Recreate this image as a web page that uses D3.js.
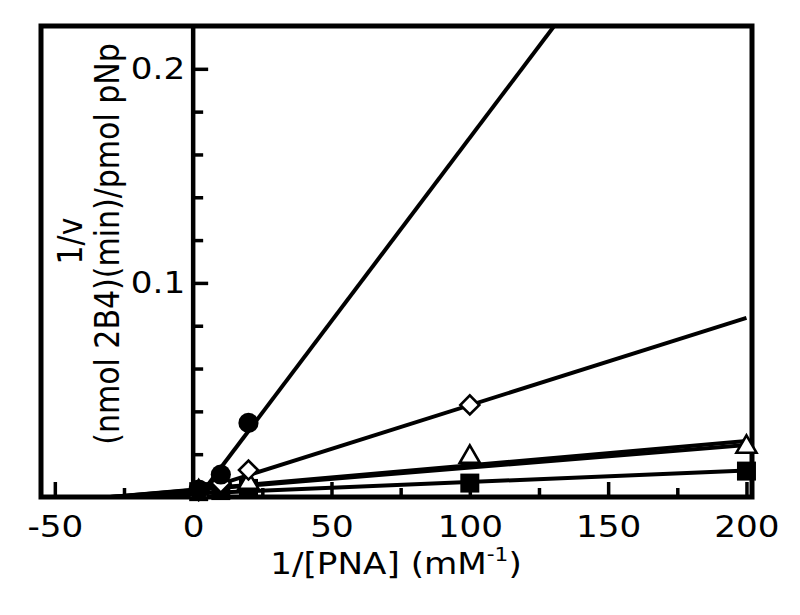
<!DOCTYPE html>
<meta charset="utf-8">
<script src="https://d3js.org/d3.v7.min.js"></script>
<style>
  body { margin: 0; background: #fff; }
  text { font-family: "DejaVu Sans", Verdana, sans-serif; fill: #000; }
</style>
<div id="my_dataviz"></div>
<script>

// measured points (1/[PNA] in mM^-1, 1/v)
var circX = [2, 10, 20],
    circY = [0.0035, 0.0105, 0.0346];
var diamX = [2, 10, 20, 100],
    diamY = [0.003, 0.0065, 0.0126, 0.043];
var triX = [2, 10, 20, 100, 200],
    triY = [0.0025, 0.0085, 0.0065, 0.0187, 0.0234];
var sqX = [2, 10, 20, 100, 200],
    sqY = [0.0025, 0.003, 0.004, 0.0065, 0.0121];

// fitted lines, start and end points
var fitX0 = [2, -5, -30, -30, -30],
    fitY0 = [0, 0, 0, 0, 0],
    fitX1 = [130.5, 200, 200, 200, 200],
    fitY1 = [0.22, 0.0837, 0.0262, 0.0243, 0.0124];

var xMajor = [-50, 0, 50, 100, 150, 200],
    xMinor = [-25, 25, 75, 125, 175];
var yMajor = [0.1, 0.2],
    yMinor = [0.02, 0.04, 0.06, 0.08, 0.12, 0.14, 0.16, 0.18];

var W = 800, H = 615;
var pLeft = 41, pRight = 752, pTop = 26, pBottom = 497;
var stretch = "scale(1.14,1)";

var svg = d3.select("#my_dataviz")
  .append("svg")
    .attr("width", W)
    .attr("height", H);

var x = d3.scaleLinear().domain([-55, 202]).range([pLeft, pRight]);
var y = d3.scaleLinear().domain([0, 0.22]).range([pBottom, pTop]);

svg.append("clipPath").attr("id", "clip")
  .append("rect")
    .attr("x", pLeft).attr("y", pTop)
    .attr("width", pRight - pLeft).attr("height", pBottom - pTop);

// x ticks (pointing up from the bottom frame)
var xMin = svg.append("g")
  .attr("transform", "translate(0," + pBottom + ")")
  .call(d3.axisBottom(x).tickValues(xMinor).tickSizeInner(-9).tickSizeOuter(0).tickFormat(""));
var xMaj = svg.append("g")
  .attr("transform", "translate(0," + pBottom + ")")
  .call(d3.axisBottom(x).tickValues(xMajor).tickSizeInner(-15).tickSizeOuter(0)
        .tickPadding(19).tickFormat(function(d){ return String(d); }));

// y ticks (pointing right from the y axis at x = 0)
var yMin = svg.append("g")
  .attr("transform", "translate(" + x(0) + ",0)")
  .call(d3.axisLeft(y).tickValues(yMinor).tickSizeInner(-10).tickSizeOuter(0).tickFormat(""));
var yMaj = svg.append("g")
  .attr("transform", "translate(" + x(0) + ",0)")
  .call(d3.axisLeft(y).tickValues(yMajor).tickSizeInner(-15).tickSizeOuter(0)
        .tickPadding(7).tickFormat(d3.format(".1f")));

[xMin, xMaj, yMin, yMaj].forEach(function(g) {
  g.select(".domain").remove();
  g.selectAll("line").attr("stroke", "#000").attr("stroke-width", 3.5);
  g.selectAll("text")
    .style("font-family", "DejaVu Sans")
    .style("font-size", "30px")
    .attr("fill", "#000")
    .attr("transform", stretch);
});

// frame and y axis line
svg.append("rect")
  .attr("x", pLeft).attr("y", pTop)
  .attr("width", pRight - pLeft).attr("height", pBottom - pTop)
  .attr("fill", "none")
  .attr("stroke", "#000")
  .attr("stroke-width", 5);

svg.append("line")
  .attr("x1", x(0)).attr("x2", x(0))
  .attr("y1", pTop).attr("y2", pBottom)
  .attr("stroke", "#000")
  .attr("stroke-width", 4.5);

// fitted lines
svg.append("g")
  .attr("clip-path", "url(#clip)")
  .selectAll("line.fit")
  .data(fitX0)
  .enter()
  .append("line")
    .attr("class", "fit")
    .attr("x1", function(d, i){ return x(fitX0[i]); })
    .attr("y1", function(d, i){ return y(fitY0[i]); })
    .attr("x2", function(d, i){ return x(fitX1[i]); })
    .attr("y2", function(d, i){ return y(fitY1[i]); })
    .attr("stroke", "#000")
    .attr("stroke-width", 4);

// markers
function addPoints(xs, ys, type, size, fill, rot) {
  svg.append("g")
    .selectAll("path")
    .data(xs)
    .enter()
    .append("path")
      .attr("d", d3.symbol().type(type).size(size))
      .attr("transform", function(d, i){
        return "translate(" + x(xs[i]) + "," + y(ys[i]) + ")" + (rot ? " rotate(45)" : "");
      })
      .attr("fill", fill)
      .attr("stroke", "#000")
      .attr("stroke-width", fill === "#fff" ? 2.6 : 0);
}
addPoints(sqX, sqY, d3.symbolSquare, 361, "#000", false);
addPoints(triX, triY, d3.symbolTriangle, 175, "#fff", false);
addPoints(diamX, diamY, d3.symbolSquare, 180, "#fff", true);
addPoints(circX, circY, d3.symbolCircle, 320, "#000", false);

// axis titles
var xt = svg.append("text")
  .attr("transform", "translate(396,574) " + stretch)
  .attr("text-anchor", "middle")
  .style("font-size", "30px");
xt.append("tspan").text("1/[PNA] (mM");
xt.append("tspan").attr("dy", -13).style("font-size", "19px").text("-1");
xt.append("tspan").attr("dy", 13).text(")");

svg.append("text")
  .attr("transform", "translate(82,241) " + stretch + " rotate(-90)")
  .attr("text-anchor", "middle")
  .style("font-size", "30px")
  .text("1/v");

svg.append("text")
  .attr("transform", "translate(119,244) " + stretch + " rotate(-90)")
  .attr("text-anchor", "middle")
  .style("font-size", "30px")
  .text("(nmol 2B4)(min)/pmol pNp");

</script>
